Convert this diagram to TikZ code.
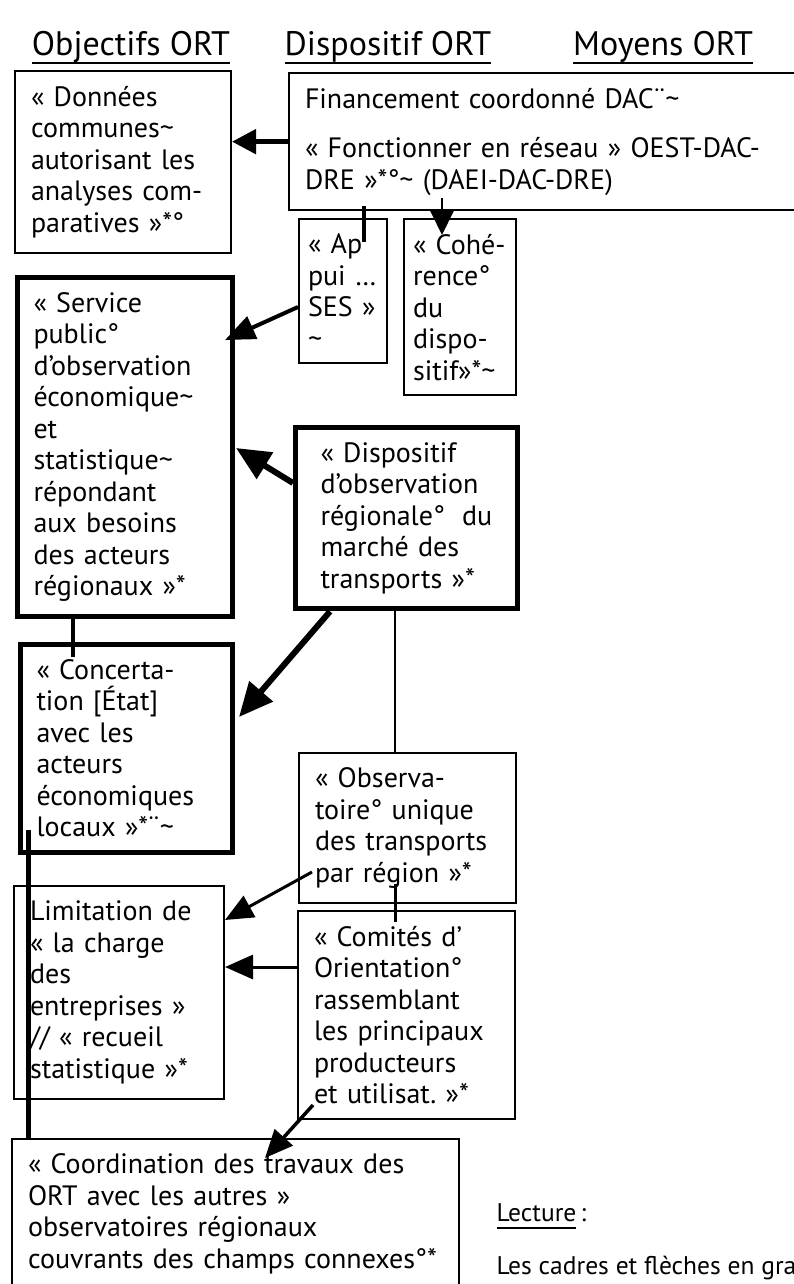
\documentclass[tikz,border=0pt]{standalone}
\usepackage{fontspec}
\setmainfont{PT Sans}
\usepackage{tikz}
\usetikzlibrary{arrows.meta}
\usetikzlibrary{calc}
\usetikzlibrary{positioning}

\newcommand{\tld}{\textasciitilde}
\newcommand{\souligne}[1]{\setbox0\hbox{#1}\rlap{\rule[-8pt]{\wd0}{2pt}}\box0}

\begin{document}
\begin{tikzpicture}[x=1pt,y=-1pt,
      cadre/.style={draw,line width=2pt,anchor=north west,align=left,
        inner xsep=16pt,inner ysep=15pt,font=\fontsize{28}{31.5}\selectfont,
        execute at begin node={\hyphenpenalty=10000 \exhyphenpenalty=10000}},
      cadregras/.style={cadre,line width=5pt},
      petit/.style={cadre,inner xsep=9pt},
      titre/.style={anchor=base,font=\fontsize{34}{40}\selectfont},
      lecture/.style={anchor=base west,font=\fontsize{25.5}{30}\selectfont},
      trait/.style={line width=#1},
      fleche/.style={line width=#1,-{Triangle[length=28pt,width=24pt]}},
      flechegras/.style={line width=6pt,-{Triangle[length=34pt,width=30pt]}},
    ]
    \fill[white] (0,0) rectangle (793,1284);
    \useasboundingbox (0,0) rectangle (793,1284);

    \node[titre] (tobj) at (131,56) {\souligne{Objectifs ORT}};
    \node[titre] (tdis) at (388,56) {\souligne{Dispositif ORT}};
    \node[titre] (tmoy) at (663,56) {\souligne{Moyens ORT}};

    \node[cadre,text width=184pt] (don) at (14,70)
      {«~Données\\communes\tld\\autorisant~les\\analyses~com-\\paratives~»*°};
    \node[cadre,text width=508pt,minimum height=131pt] (fin) at (288,72)
      {Financement coordonné DAC¨\tld\\[18pt]«~Fonctionner en réseau » OEST-DAC-\\DRE~»*°\tld{} (DAEI-DAC-DRE)};
    \node[petit,text width=70pt] (app) at (298,218)
      {«~Ap\\pui~…\\SES~»\\\tld};
    \node[petit,text width=94pt] (coh) at (403,218)
      {«~Cohé-\\rence°\\du\\dispo-\\sitif»*\tld};
    \node[cadregras,text width=183pt] (ser) at (15,275)
      {«~Service\\public°\\d’observation\\économique\tld\\et\\statistique\tld\\répondant\\aux~besoins\\des~acteurs\\régionaux~»*};
    \node[cadregras,inner xsep=25pt,text width=172pt] (dis) at (293,425)
      {«~Dispositif\\d’observation\\régionale°\;~du\\marché~des\\transports~»*};
    \node[cadregras,text width=180pt] (con) at (18,642)
      {«~Concerta-\\tion~[État]\\avec~les\\acteurs\\économiques\\locaux~»*¨\tld};
    \node[cadre,text width=185pt] (obs) at (298,752)
      {«~Observa-\\toire°~unique\\des~transports\\par~région~»*};
    \node[cadre,text width=178pt] (lim) at (13,885)
      {Limitation~de\\«~la~charge\\des\\entreprises~»\\//~«~recueil\\statistique~»*};
    \node[cadre,text width=415pt] (coo) at (11,1138)
      {«~Coordination des travaux des\\ORT avec les autres~»\\observatoires régionaux\\couvrants~des~champs~connexes°*\\\mbox{}};
    \node[cadre,text width=185pt] (com) at (297,910)
      {«~Comités~d’\\Orientation°\\rassemblant\\les~principaux\\producteurs\\et~utilisat.~»*};

    \node[lecture] (lect) at (493,1221) {\souligne{Lecture}\,:};
    \node[lecture] (lig1) at (493,1274) {Les cadres et flèches en gra};
    \node[lecture] (lig2) at (493,1303) {correspondent aux objectifs};

    \coordinate (appH) at ($(app.north west)+(66,24)$);
    \coordinate (cohH) at ($(coh.north west)+(39,17)$);
    \coordinate (conH) at ($(con.north west)+(55,15)$);
    \coordinate (obsH) at ($(obs.north west)+(97,0)$);
    \coordinate (comH) at ($(com.north west)+(98,12)$);
    \coordinate (comG) at ($(com.north west)+(0,57)$);
    \coordinate (conB) at ($(con.south west)+(10,-25)$);

    \draw[fleche=5pt,-{Triangle[length=24pt,width=24pt]}] (fin.west) -- (fin.west -| don.east);
    \draw[trait=4pt] ($(appH |- fin.south)+(0,-5)$) -- (appH);
    \draw[fleche=2pt,-{Triangle[length=25pt,width=24pt]}] ($(cohH |- fin.south)+(0,-13)$) -- (cohH);
    \draw[fleche=4pt,-{Triangle[length=30pt,width=24pt]}] ($(app.north west)+(0,89)$) -- ($(ser.north east)+(-10,65)$);
    \draw[flechegras] ($(dis.north west)+(0,58)$) -- ($(ser.north east)+(1,173)$);
    \draw[trait=4pt] (conH |- ser.south) -- (conH);
    \draw[flechegras] ($(dis.south west)+(37,0)$) -- ($(con.north east)+(4,75)$);
    \draw[trait=2pt] (obsH |- dis.south) -- (obsH);
    \draw[fleche=3pt] ($(obs.north west)+(14,120)$) -- ($(lim.north east)+(0,35)$);
    \draw[trait=3pt] ($(comH |- obs.south)+(0,-20)$) -- (comH);
    \draw[fleche=3pt] (comG) -- (comG -| lim.east);
    \draw[fleche=3.5pt] ($(com.south west)+(16,-15)$) -- ($(coo.north west)+(254,20)$);
    \draw[trait=5pt] (conB) -- ($(conB |- coo.north)+(0,2)$);
\end{tikzpicture}
\end{document}
